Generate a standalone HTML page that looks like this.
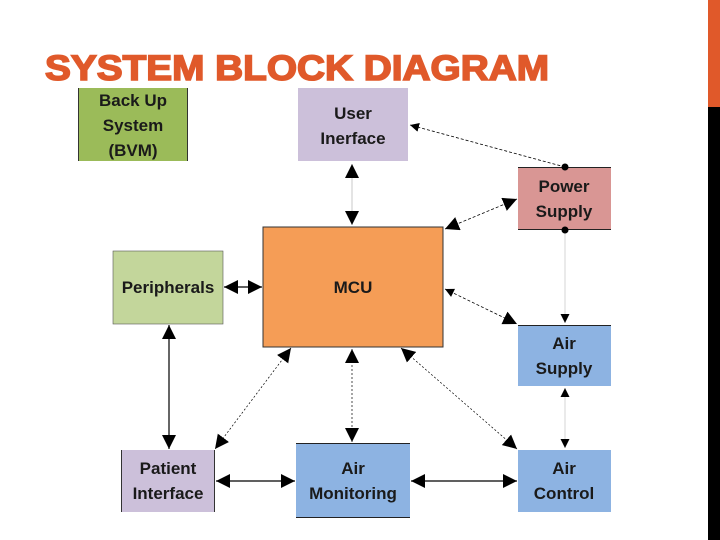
<!DOCTYPE html>
<html><head><meta charset="utf-8"><style>
html,body{margin:0;padding:0;background:#fff;width:720px;height:540px;overflow:hidden}
svg{display:block}
text{font-family:"Liberation Sans",Arial,sans-serif;font-weight:bold;fill:#1a1a1a}
</style></head><body>
<svg width="720" height="540" viewBox="0 0 720 540" xmlns="http://www.w3.org/2000/svg">
<defs>
<marker id="b" viewBox="0 0 10 10" refX="10" refY="5" markerWidth="14" markerHeight="14" orient="auto-start-reverse" markerUnits="userSpaceOnUse"><path d="M0,0L10,5L0,10z" fill="#000"/></marker>
<marker id="s" viewBox="0 0 10 10" refX="10" refY="5" markerWidth="9" markerHeight="9" orient="auto-start-reverse" markerUnits="userSpaceOnUse"><path d="M0,0L10,5L0,10z" fill="#000"/></marker>
</defs>
<rect x="708" y="0" width="12" height="107" fill="#e0592a"/>
<rect x="708" y="107" width="12" height="433" fill="#000"/>
<text x="45" y="80" font-size="35" textLength="504" lengthAdjust="spacingAndGlyphs" style="fill:#e0592a;stroke:#e0592a;stroke-width:1.6">SYSTEM BLOCK DIAGRAM</text>

<rect x="78" y="88" width="110" height="73" fill="#9bbb59"/>
<line x1="78.5" y1="88" x2="78.5" y2="161" stroke="#333"/><line x1="187.5" y1="88" x2="187.5" y2="161" stroke="#333"/>
<rect x="298" y="88" width="110" height="73" fill="#ccc0da"/>
<rect x="518" y="167" width="93" height="63" fill="#d99694"/>
<line x1="518" y1="167.5" x2="611" y2="167.5" stroke="#222"/><line x1="518" y1="229.5" x2="611" y2="229.5" stroke="#222"/>
<rect x="263" y="227" width="180" height="120" fill="#f59d56" stroke="#333" stroke-width="1"/>
<rect x="113" y="251" width="110" height="73" fill="#c3d69b" stroke="#555" stroke-width="0.6"/>
<rect x="518" y="325" width="93" height="61" fill="#8db3e2"/>
<line x1="518" y1="325.5" x2="611" y2="325.5" stroke="#222"/>
<rect x="121" y="450" width="94" height="62" fill="#ccc0da"/>
<line x1="121.5" y1="450" x2="121.5" y2="512" stroke="#333"/><line x1="214.5" y1="450" x2="214.5" y2="512" stroke="#333"/>
<rect x="296" y="443" width="114" height="75" fill="#8db3e2"/>
<line x1="296" y1="443.5" x2="410" y2="443.5" stroke="#222"/><line x1="296" y1="517.5" x2="410" y2="517.5" stroke="#222"/>
<rect x="518" y="450" width="93" height="62" fill="#8db3e2"/>

<g font-size="17" text-anchor="middle">
<text x="133" y="106">Back Up</text><text x="133" y="131">System</text><text x="133" y="156">(BVM)</text>
<text x="353" y="119">User</text><text x="353" y="144">Inerface</text>
<text x="564" y="192">Power</text><text x="564" y="217">Supply</text>
<text x="353" y="293">MCU</text>
<text x="168" y="293">Peripherals</text>
<text x="564" y="349">Air</text><text x="564" y="374">Supply</text>
<text x="168" y="474">Patient</text><text x="168" y="499">Interface</text>
<text x="353" y="474">Air</text><text x="353" y="499">Monitoring</text>
<text x="564" y="474">Air</text><text x="564" y="499">Control</text>
</g>

<g fill="none" stroke="#000">
<line x1="352" y1="164" x2="352" y2="225" stroke="#bbb" stroke-width="0.8" marker-start="url(#b)" marker-end="url(#b)"/>
<line x1="565" y1="167" x2="410" y2="125" stroke-width="0.8" stroke-dasharray="3,2" marker-end="url(#s)"/>
<line x1="445" y1="229" x2="517" y2="199" stroke-width="0.8" stroke-dasharray="3,2" marker-start="url(#b)" marker-end="url(#b)"/>
<line x1="565" y1="231" x2="565" y2="323" stroke="#ccc" stroke-width="0.8" marker-end="url(#s)"/>
<line x1="445" y1="289" x2="517" y2="324" stroke-width="0.8" stroke-dasharray="3,2" marker-start="url(#s)" marker-end="url(#b)"/>
<line x1="224" y1="287" x2="262" y2="287" stroke-width="1.2" marker-start="url(#b)" marker-end="url(#b)"/>
<line x1="169" y1="325" x2="169" y2="449" stroke-width="1.2" marker-start="url(#b)" marker-end="url(#b)"/>
<line x1="291" y1="348" x2="215" y2="449" stroke-width="0.7" stroke-dasharray="2,2" marker-start="url(#b)" marker-end="url(#b)"/>
<line x1="352" y1="349" x2="352" y2="442" stroke-width="0.7" stroke-dasharray="2,2" marker-start="url(#b)" marker-end="url(#b)"/>
<line x1="401" y1="348" x2="517" y2="449" stroke-width="0.7" stroke-dasharray="2,2" marker-start="url(#b)" marker-end="url(#b)"/>
<line x1="565" y1="388" x2="565" y2="448" stroke="#ccc" stroke-width="0.8" marker-start="url(#s)" marker-end="url(#s)"/>
<line x1="216" y1="481" x2="295" y2="481" stroke-width="1.2" marker-start="url(#b)" marker-end="url(#b)"/>
<line x1="411" y1="481" x2="517" y2="481" stroke-width="1.2" marker-start="url(#b)" marker-end="url(#b)"/>
</g>
<circle cx="565" cy="167" r="3.5" fill="#000"/>
<circle cx="565" cy="230" r="3.5" fill="#000"/>
</svg>
</body></html>
